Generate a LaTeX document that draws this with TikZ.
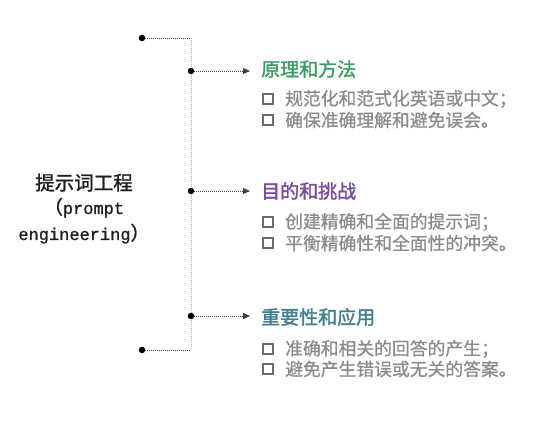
\documentclass[tikz,border=0pt]{standalone}
\usepackage{fontspec}
\newfontfamily\cjk[FakeBold=0.6]{Noto Sans CJK SC}
\newfontfamily\cjkhead[FakeBold=1.6]{Noto Sans CJK SC}
\newfontfamily\cjktitle[FakeBold=1.2]{Noto Sans CJK SC}
\newfontfamily\mono[FakeBold=1.0]{Liberation Mono}
\usetikzlibrary{arrows.meta}
\definecolor{cgreen}{HTML}{3A9E62}
\definecolor{cpurple}{HTML}{7A4A9C}
\definecolor{cteal}{HTML}{437F8C}
\definecolor{itemgray}{HTML}{8A8A8A}
\definecolor{sqgray}{HTML}{6A6A6A}
\definecolor{titlec}{HTML}{1E1E1E}
\tikzset{
  dotnode/.style={circle,fill=black,inner sep=0pt,minimum size=6.5pt},
  hline/.style={line width=0.8pt,draw=black!75,dash pattern=on 1pt off 1pt},
  vline/.style={line width=0.8pt,draw=black!30,dash pattern=on 1pt off 1pt},
  arr/.style={hline,-{Triangle[length=7pt,width=6pt]},shorten >=11pt},
  head/.style={anchor=west,inner sep=0pt,font=\cjkhead\fontsize{19}{20}\selectfont},
  item/.style={anchor=west,inner sep=0pt,text=itemgray,font=\cjk\fontsize{17.8}{18}\selectfont},
  sq/.style={draw=sqgray,line width=2pt,inner sep=0pt,minimum size=10pt},
  ttl/.style={anchor=base,inner sep=0pt,text=titlec}
}
\begin{document}
\begin{tikzpicture}[x=1pt,y=-1pt]
\useasboundingbox[fill=white] (0,0) rectangle (554,422);
% title
\node[ttl,font=\cjktitle\fontsize{19.5}{20}\selectfont] (t1) at (84,190) {提示词工程};
\node[ttl] (t2) at (84,214) {{\cjktitle\fontsize{19}{20}\selectfont （}{\mono\fontsize{17}{20}\selectfont prompt}};
\node[ttl] (t3) at (84,240) {{\mono\fontsize{17}{20}\selectfont engineering}{\cjktitle\fontsize{19}{20}\selectfont ）}};
% bracket
\node[dotnode] (top) at (142,38) {};
\node[dotnode] (bot) at (142,350) {};
\coordinate (tc) at (191,38);
\coordinate (bc) at (191,350);
\draw[vline] (tc) -- (bc);
\draw[hline] (top) -- (tc);
\draw[hline] (bot) -- (bc);
% branches
\node[dotnode] (b1) at (191,71) {};
\node[dotnode] (b2) at (191,191) {};
\node[dotnode] (b3) at (191,316) {};
\node[head,text=cgreen] (h1) at (261,69) {原理和方法};
\node[head,text=cpurple] (h2) at (261,191) {目的和挑战};
\node[head,text=cteal] (h3) at (261,317) {重要性和应用};
\draw[arr] (b1) -- (b1 -| h1.west);
\draw[arr] (b2) -- (b2 -| h2.west);
\draw[arr] (b3) -- (b3 -| h3.west);
% items
\node[sq] (s11) at (267.5,99) {};
\node[item] (i11) at (285,99) {规范化和范式化英语或中文；};
\node[sq] (s12) at (267.5,120) {};
\node[item] (i12) at (285,120) {确保准确理解和避免误会。};
\node[sq] (s21) at (267.5,222) {};
\node[item] (i21) at (285,222) {创建精确和全面的提示词；};
\node[sq] (s22) at (267.5,243) {};
\node[item] (i22) at (285,243) {平衡精确性和全面性的冲突。};
\node[sq] (s31) at (267.5,349) {};
\node[item] (i31) at (285,349) {准确和相关的回答的产生；};
\node[sq] (s32) at (267.5,369) {};
\node[item] (i32) at (285,369) {避免产生错误或无关的答案。};
\end{tikzpicture}
\end{document}
